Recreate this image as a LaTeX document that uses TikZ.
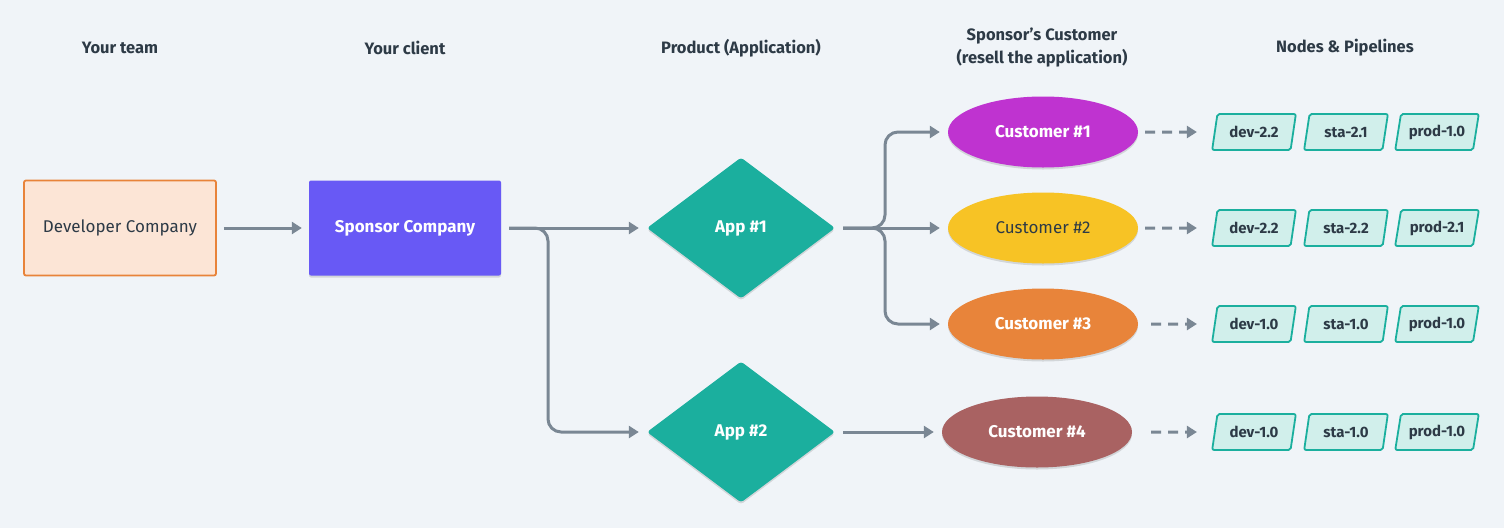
\documentclass[tikz,border=0pt]{standalone}
\usepackage{fontspec}
\setmainfont{Fira Sans}
\usetikzlibrary{shapes.geometric,arrows.meta,shadows}
\definecolor{bg}{HTML}{F0F4F8}
\definecolor{ink}{HTML}{2D3A46}
\definecolor{arrowc}{HTML}{7A8794}
\definecolor{devfill}{HTML}{FCE5D6}
\definecolor{devline}{HTML}{E8833A}
\definecolor{sponsor}{HTML}{6859F5}
\definecolor{teal}{HTML}{1BAF9E}
\definecolor{tealfill}{HTML}{D1EFEB}
\definecolor{cone}{HTML}{BF33D0}
\definecolor{ctwo}{HTML}{F7C325}
\definecolor{cthree}{HTML}{E8843A}
\definecolor{cfour}{HTML}{A96262}
\tikzset{
  header/.style={font=\fontsize{16.5}{23}\selectfont\bfseries, text=ink, align=center},
  softshadow/.style={drop shadow={shadow xshift=0pt, shadow yshift=-2pt, opacity=0.12, fill=black}},
  boxnode/.style={rectangle, rounded corners=2pt, minimum width=192pt, minimum height=95pt, inner sep=0pt, font=\fontsize{17}{20}\selectfont},
  appnode/.style={diamond, fill=teal, minimum width=188pt, minimum height=141pt, inner sep=0pt, rounded corners=3pt, text=white, font=\fontsize{17}{20}\selectfont\bfseries, softshadow},
  custnode/.style={ellipse, minimum width=190pt, minimum height=71pt, inner sep=0pt, font=\fontsize{17}{20}\selectfont\bfseries, text=white, softshadow},
  pipenode/.style={trapezium, trapezium left angle=73, trapezium right angle=107, trapezium stretches=true, minimum width=84pt, minimum height=36pt, inner sep=0pt, draw=teal, line width=1.8pt, fill=tealfill, rounded corners=2pt, text=ink, font=\fontsize{15}{18}\selectfont\bfseries},
  conn/.style={draw=arrowc, line width=3pt, -{Triangle[length=10pt,width=12pt]}},
  dconn/.style={conn, dash pattern=on 10pt off 7pt},
}
\begin{document}
\begin{tikzpicture}[x=1pt,y=-1pt]
\fill[bg] (0,0) rectangle (1504,528);
\useasboundingbox (0,0) rectangle (1504,528);
% headers
\node[header] (h1) at (120,48) {Your team};
\node[header] (h2) at (405,48) {Your client};
\node[header] (h3) at (741,48) {Product (Application)};
\node[header] (h4) at (1042,48) {Sponsor’s Customer\\(resell the application)};
\node[header] (h5) at (1345,48) {Nodes \& Pipelines};
% boxes
\node[boxnode, fill=devfill, draw=devline, line width=1.8pt, text=ink] (dev) at (120,228) {Developer Company};
\node[boxnode, fill=sponsor, text=white, font=\fontsize{17}{20}\selectfont\bfseries, softshadow] (sp) at (405,228) {Sponsor Company};
% apps
\node[appnode] (a1) at (741,228) {App \#1};
\node[appnode] (a2) at (741,432) {App \#2};
% customers
\node[custnode, fill=cone] (c1) at (1043,132) {Customer \#1};
\node[custnode, fill=ctwo, text=ink, font=\fontsize{17}{20}\selectfont] (c2) at (1043,228) {Customer \#2};
\node[custnode, fill=cthree] (c3) at (1043,324) {Customer \#3};
\node[custnode, fill=cfour] (c4) at (1037,432) {Customer \#4};
% pipelines
\node[pipenode] (p1a) at (1254,132) {dev-2.2};
\node[pipenode] (p1b) at (1346,132) {sta-2.1};
\node[pipenode] (p1c) at (1437,132) {prod-1.0};
\node[pipenode] (p2a) at (1254,228) {dev-2.2};
\node[pipenode] (p2b) at (1346,228) {sta-2.2};
\node[pipenode] (p2c) at (1437,228) {prod-2.1};
\node[pipenode] (p3a) at (1254,324) {dev-1.0};
\node[pipenode] (p3b) at (1346,324) {sta-1.0};
\node[pipenode] (p3c) at (1437,324) {prod-1.0};
\node[pipenode] (p4a) at (1254,432) {dev-1.0};
\node[pipenode] (p4b) at (1346,432) {sta-1.0};
\node[pipenode] (p4c) at (1437,432) {prod-1.0};
% junctions
\coordinate (j1) at (548,228);
\coordinate (j2) at (885,228);
% connectors
\draw[conn, shorten <=7pt, shorten >=7pt] (dev.east) -- (sp.west);
\draw[conn, shorten <=8pt, shorten >=8pt] (sp.east) -- (a1.west);
\draw[conn, rounded corners=13pt, shorten >=8pt] ([xshift=8pt]sp.east) -- (j1) |- (a2.west);
\draw[conn, shorten <=8pt, shorten >=8pt] (a1.east) -- (c2.west);
\draw[conn, rounded corners=13pt, shorten >=8pt] ([xshift=8pt]a1.east) -- (j2) |- (c1.west);
\draw[conn, rounded corners=13pt, shorten >=8pt] ([xshift=8pt]a1.east) -- (j2) |- (c3.west);
\draw[conn, shorten <=8pt, shorten >=8pt] (a2.east) -- (c4.west);
\draw[dconn, shorten <=7pt, shorten >=17pt] (c1.east) -- (p1a.west);
\draw[dconn, shorten <=7pt, shorten >=17pt] (c2.east) -- (p2a.west);
\draw[dconn, shorten <=13pt, shorten >=17pt] (c3.east) -- (p3a.west);
\draw[dconn, shorten <=19pt, shorten >=17pt] (c4.east) -- (p4a.west);
\end{tikzpicture}
\end{document}
